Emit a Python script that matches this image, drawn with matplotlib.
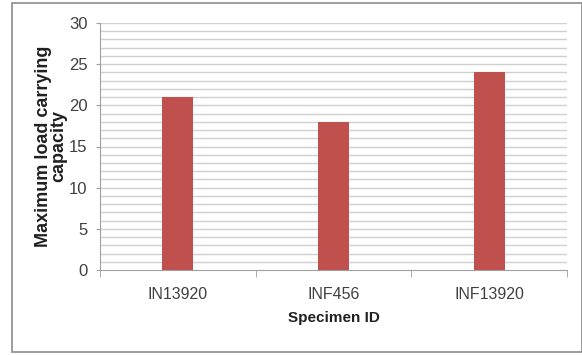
import matplotlib
matplotlib.use("Agg")
import matplotlib.pyplot as plt
from matplotlib.patches import Rectangle
import numpy as np

plt.rcParams['font.family'] = ['Liberation Sans', 'DejaVu Sans']

specimens = ["IN13920", "INF456", "INF13920"]
capacity = [21, 18, 24]
y_ticks = [0, 5, 10, 15, 20, 25, 30]

W, H = 582, 355
fig = plt.figure(figsize=(W / 100, H / 100), dpi=100)

# outer chart frame
fig.patches.append(Rectangle((12 / W, 3 / H), (W - 12) / W, (H - 6) / H,
                             transform=fig.transFigure, fill=False,
                             edgecolor="#8c8c8c", linewidth=1.2))

ax = fig.add_axes([100 / W, (H - 270) / H, 467 / W, 247 / H])

x = np.arange(len(specimens))
ax.bar(x, capacity, width=0.2, color="#C0504D", zorder=3)

ax.set_xlim(-0.5, len(specimens) - 0.5)
ax.set_ylim(0, 30)

# gridlines at every unit
for v in range(1, 31):
    ax.axhline(v, color="#d0d0d0", linewidth=1.0, zorder=1)

ax.set_yticks(y_ticks)
ax.set_yticklabels([str(t) for t in y_ticks], fontsize=12, color="#404040")
ax.set_xticks(x)
ax.set_xticklabels(specimens, fontsize=11.5, color="#404040")
ax.set_xticks(np.arange(len(specimens) + 1) - 0.5, minor=True)
ax.tick_params(axis="x", which="major", length=0, pad=12)
ax.tick_params(axis="x", which="minor", length=5, color="#a0a0a0")
ax.tick_params(axis="y", length=3, color="#a0a0a0", pad=6)

for side in ("top", "right"):
    ax.spines[side].set_visible(False)
ax.spines["left"].set_color("#a0a0a0")
ax.spines["bottom"].set_color("#a0a0a0")

ax.set_xlabel("Specimen ID", fontsize=11, fontweight="bold", labelpad=7,
              color="#202020")
ax.set_ylabel("Maximum load carrying\ncapacity", fontsize=13,
              fontweight="bold", labelpad=1, linespacing=0.85, color="#202020")

fig.savefig("out.png", dpi=100)
